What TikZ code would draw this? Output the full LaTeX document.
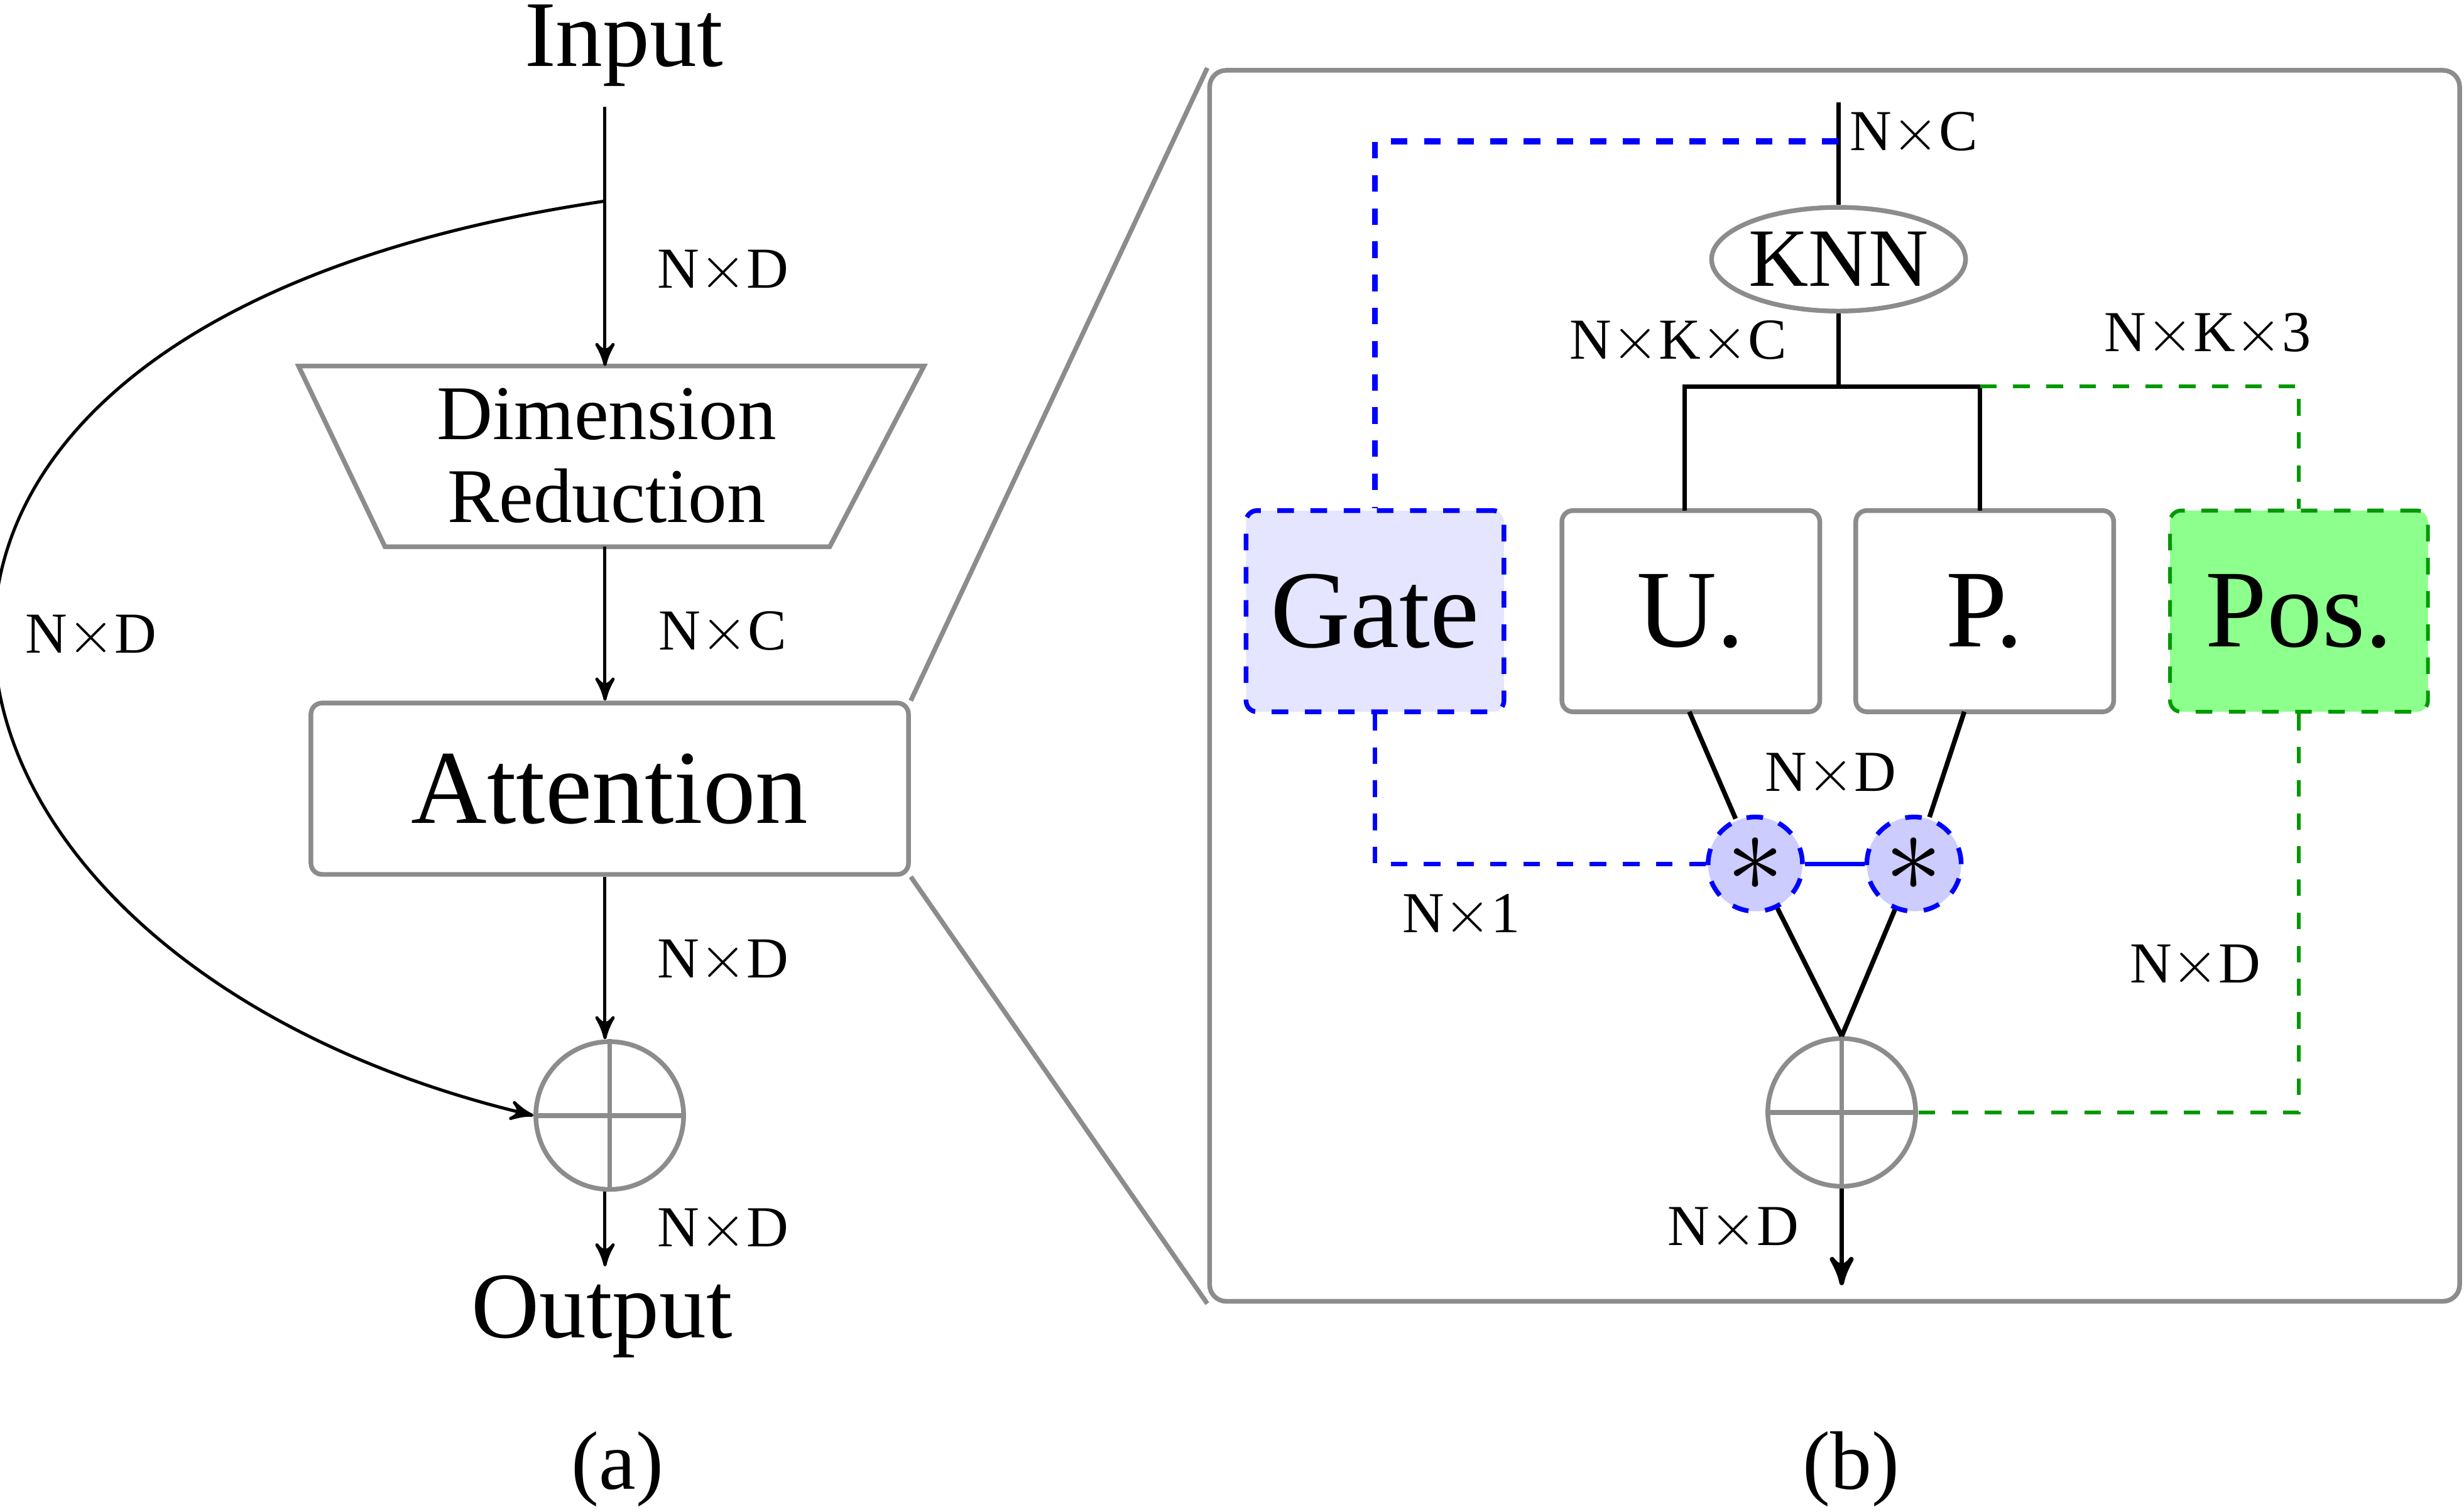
\documentclass[tikz,border=0pt]{standalone}
\usepackage{fontspec}
\setmainfont{Liberation Serif}
\usepackage{tikz}
\usetikzlibrary{shapes}
\usetikzlibrary{arrows}
\tikzset{
	gray box/.style={draw=black!45,line width=0.85pt,rounded corners=2pt,minimum width=1.64cm,minimum height=1.28cm,font=\fontsize{20}{22}\selectfont},
	dim/.style={font=\fontsize{10.5}{12}\selectfont},
	big text/.style={font=\fontsize{17}{19}\selectfont},
	oplus/.style={circle,draw=black!45,line width=0.85pt,minimum size=0.94cm,inner sep=0pt},
	star/.style={circle,draw=blue,dashed,line width=0.85pt,fill=blue!20,minimum size=0.6cm,inner sep=0pt,font=\fontsize{20}{20}\selectfont},
	blue dash/.style={draw=blue,dashed,line width=0.85pt},
	green dash/.style={draw=green!60!black,dashed,line width=0.7pt}
}
\begin{document}
\begin{tikzpicture}[x=0.01cm,y=-0.01cm,>=stealth',line width=0.57pt]
	\useasboundingbox (0,0) rectangle (1568,962);
	% (a)
	\node [big text] (input) at (397,29) {Input};
	\draw [black!45,line width=0.85pt] (190,233) -- (588,233) -- (528,348) -- (245,348) -- cycle;
	\node [align=center,font=\fontsize{14}{14}\selectfont,inner sep=0pt] (dimred) at (386,290) {Dimension\\[1pt]Reduction};
	\coordinate (dimtop) at (385,233);
	\coordinate (dimbot) at (385,348);
	\node [gray box,minimum width=3.8cm,minimum height=1.09cm,font=\fontsize{19}{21}\selectfont] (attn) at (388,502) {Attention};
	\node [oplus] (addA) at (388,710) {};
	\draw [black!45,line width=0.85pt] (addA.north) -- (addA.south) (addA.west) -- (addA.east);
	\node [big text] (output) at (383,838) {Output};
	\node [font=\fontsize{15}{16}\selectfont] (capA) at (393,935) {(a)};
	\coordinate (split) at (385,128);
	\coordinate (in) at (385,68);
	\coordinate (out) at (385,806);
	\draw [->] (in) -- (dimtop);
	\draw [->] (dimbot) -- (in |- attn.north);
	\draw [->] (in |- attn.south) -- (in |- addA.north);
	\draw [->] (in |- addA.south) -- (out);
	\draw [->] (split) .. controls (-170,210) and (-80,610) .. (addA.west);
	\node [dim] at (460,173) {N$\times$D};
	\node [dim] at (460,403) {N$\times$C};
	\node [dim] at (460,612) {N$\times$D};
	\node [dim] at (460,783) {N$\times$D};
	\node [dim] at (58,405) {N$\times$D};
	% zoom
	\node [draw=black!45,line width=0.85pt,rounded corners=3pt,minimum width=7.95cm,minimum height=7.83cm] (panel) at (1167.5,436.5) {};
	\draw [black!45,line width=0.85pt] (attn.north east) -- (panel.north west);
	\draw [black!45,line width=0.85pt] (attn.south east) -- (panel.south west);
	% (b)
	\node [draw=black!45,line width=0.85pt,ellipse,minimum width=1.6cm,minimum height=0.66cm,inner sep=0pt,font=\fontsize{15}{15}\selectfont] (knn) at (1170,165) {KNN};
	\node [gray box,blue dash,fill=blue!10,rounded corners=2pt] (gate) at (875,389) {Gate};
	\node [gray box] (upd) at (1076,389) {U.};
	\node [gray box] (pnt) at (1263,389) {P.};
	\node [gray box,green dash,fill=green!45,rounded corners=2pt] (pos) at (1463,389) {Pos.};
	\node [star] (mulA) at (1117,550) {$*$};
	\node [star] (mulB) at (1218,550) {$*$};
	\node [oplus] (addB) at (1172,708) {};
	\draw [black!45,line width=0.85pt] (addB.north) -- (addB.south) (addB.west) -- (addB.east);
	\node [font=\fontsize{15}{16}\selectfont] (capB) at (1178,935) {(b)};
	\coordinate (top) at (1170,65);
	\coordinate (tap) at (1170,90);
	\coordinate (fork) at (1170,246);
	\coordinate (bottom) at (1172,818);
	\draw [line width=0.85pt] (top) -- (knn);
	\draw [blue dash,line width=1.1pt] (tap) -| (gate);
	\draw [line width=0.85pt] (knn) -- (fork);
	\draw [line width=0.85pt] (fork) -| (1072,325);
	\draw [line width=0.85pt] (fork) -| (1260,325);
	\draw [green dash] (1260,246) -| (pos);
	\draw [line width=0.85pt] (1075,453) -- (mulA);
	\draw [line width=0.85pt] (1250,453) -- (mulB);
	\draw [blue,line width=0.85pt] (mulA) -- (mulB);
	\draw [blue dash] (gate) |- (mulA);
	\draw [line width=0.85pt] (mulA) -- (addB.north);
	\draw [line width=0.85pt] (mulB) -- (addB.north);
	\draw [->,line width=0.85pt] (addB) -- (bottom);
	\draw [green dash] (pos) |- (addB);
	\node [dim] at (1218,85) {N$\times$C};
	\node [dim] at (1068,218) {N$\times$K$\times$C};
	\node [dim] at (1405,213) {N$\times$K$\times$3};
	\node [dim] at (1165,493) {N$\times$D};
	\node [dim] at (930,583) {N$\times$1};
	\node [dim] at (1397,615) {N$\times$D};
	\node [dim] at (1103,782) {N$\times$D};
\end{tikzpicture}
\end{document}
